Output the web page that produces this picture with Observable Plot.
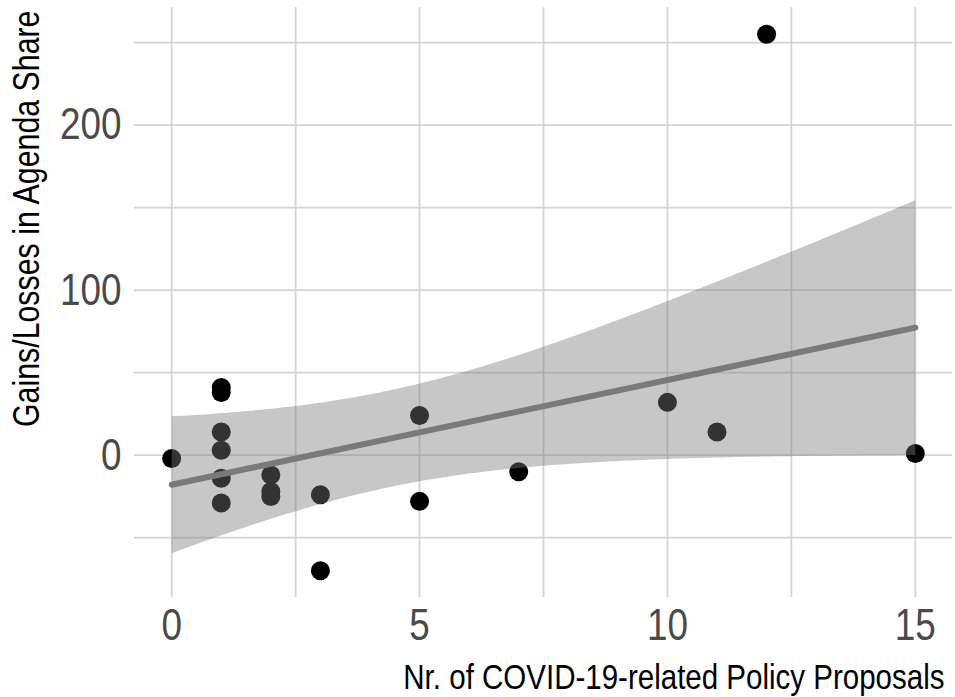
<!DOCTYPE html>
<html>
<head>
<meta charset="utf-8">
<script src="https://cdn.jsdelivr.net/npm/d3@7"></script>
<script src="https://cdn.jsdelivr.net/npm/@observablehq/plot@0.6"></script>
<style>
  html, body { margin: 0; padding: 0; background: #ffffff; }
  #chart svg { display: block; }
</style>
</head>
<body>
<div id="chart"></div>
<script>
// Data
const proposals = [0, 1, 1, 1, 1, 1, 1, 2, 2, 2, 3, 3, 5, 5, 7, 10, 11, 12, 15];
const agendaShare = [-2, 41, 38, 14, 3, -14, -29, -12, -22, -25, -24, -70, 24, -28, -10, 32, 14, 255, 1];
const xTicks = [0, 5, 10, 15];
const xGrid = [0, 2.5, 5, 7.5, 10, 12.5, 15];
const yTicks = [0, 100, 200];
const yGrid = [-50, 0, 50, 100, 150, 200, 250];
const xTitle = "Nr. of COVID-19-related Policy Proposals";
const yTitle = "Gains/Losses in Agenda Share";

const data = proposals.map((x, i) => ({x, y: agendaShare[i]}));

const FONT = "'Liberation Sans', Arial, sans-serif";

const chart = Plot.plot({
  width: 955,
  height: 697,
  marginLeft: 134,
  marginRight: 3,
  marginTop: 7,
  marginBottom: 100,
  style: {fontFamily: FONT, background: "#ffffff"},
  x: {domain: [-0.75, 15.75]},
  y: {domain: [-86.25, 271.25]},
  marks: [
    Plot.ruleX(xGrid, {stroke: "#d4d4d4", strokeWidth: 1.8}),
    Plot.ruleY(yGrid, {stroke: "#d4d4d4", strokeWidth: 1.8}),
    Plot.axisX(xTicks, {tickSize: 0, tickPadding: 11, fontSize: 45, fill: "#4a4a4a", label: null}),
    Plot.axisY(yTicks, {tickSize: 0, tickPadding: 13, fontSize: 45, fill: "#4a4a4a", label: null}),
    Plot.dot(data, {x: "x", y: "y", r: 9.5, fill: "#000000", stroke: null}),
    Plot.linearRegressionY(data, {
      x: "x", y: "y", ci: 0.95,
      stroke: "#7a7a7a", strokeWidth: 6,
      fill: "#7a7a7a", fillOpacity: 0.42
    }),
    Plot.text([xTitle], {
      frameAnchor: "bottom-right", dx: -8, dy: 91,
      textAnchor: "end", lineAnchor: "bottom",
      fontSize: 36, fill: "#000000"
    }),
    Plot.text([yTitle], {
      frameAnchor: "top-left", dx: -96, dy: 3, rotate: -90,
      textAnchor: "end", lineAnchor: "bottom",
      fontSize: 37, fill: "#000000"
    })
  ]
});

// Condense all texts horizontally (narrow sans look of the reference)
d3.select(chart).selectAll("text").each(function() {
  const t = this.getAttribute("transform");
  if (t) {
    this.setAttribute("transform", t + " scale(0.82,1)");
  } else {
    const x = +this.getAttribute("x") || 0;
    const y = this.getAttribute("y");
    const yn = y && !/em$/.test(y) ? +y : 0;
    this.removeAttribute("x");
    if (y && !/em$/.test(y)) this.removeAttribute("y");
    this.setAttribute("transform", `translate(${x},${yn}) scale(0.82,1)`);
  }
});

document.getElementById("chart").appendChild(chart);
</script>
</body>
</html>
